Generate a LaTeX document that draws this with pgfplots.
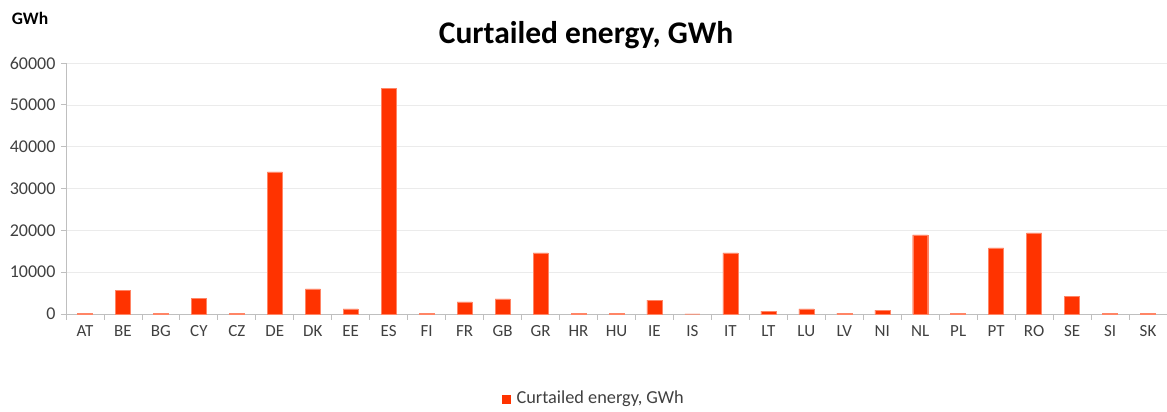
\documentclass[border=0pt]{standalone}
\usepackage{pgfplots}
\pgfplotsset{compat=1.18}
\usepackage{fontspec}
\setmainfont{Carlito}
\definecolor{barred}{HTML}{FF3300}
\definecolor{txt}{HTML}{404040}
\definecolor{axgray}{HTML}{BFBFBF}
\definecolor{gridgray}{HTML}{EBEBEB}
\begin{document}
\begin{tikzpicture}[x=1pt,y=1pt]
\begin{axis}[
  at={(66pt,98pt)}, anchor=south west,
  scale only axis, width=1101pt, height=251pt,
  xmin=-0.5, xmax=28.5, ymin=0, ymax=60000,
  axis x line*=bottom, axis y line*=left,
  axis line style={axgray, line width=0.8pt},
  xtick={0,...,28},
  xticklabels={AT,BE,BG,CY,CZ,DE,DK,EE,ES,FI,FR,GB,GR,HR,HU,IE,IS,IT,LT,LU,LV,NI,NL,PL,PT,RO,SE,SI,SK},
  major x tick style={draw=none},
  minor xtick={-0.5,0.5,...,28.5},
  minor x tick style={axgray, line width=0.8pt},
  minor tick length=6pt,
  ytick={0,10000,...,60000},
  major y tick style={axgray, line width=0.8pt},
  major tick length=5pt,
  tick align=outside,
  ymajorgrids, grid style={gridgray, line width=0.6pt},
  yticklabel style={/pgf/number format/1000 sep={}, font=\fontsize{18}{18}\selectfont, text=txt, xshift=-2pt},
  xticklabel style={font=\fontsize{17}{17}\selectfont, text=txt, yshift=-3pt},
  /pgf/number format/assume math mode=true,
  scaled y ticks=false,
  ybar, bar width=15pt,
  clip=false,
]
\addplot[fill=barred, draw=barred!60!white, line width=0.4pt] coordinates {
(0,200) (1,5700) (2,200) (3,3800) (4,200) (5,34000) (6,6000) (7,1200) (8,54000)
(9,200) (10,2900) (11,3600) (12,14600) (13,200) (14,200) (15,3300) (16,0)
(17,14600) (18,700) (19,1200) (20,200) (21,900) (22,18900) (23,200) (24,15800)
(25,19400) (26,4300) (27,200) (28,200)};
\end{axis}
\node[font=\bfseries\fontsize{31.5}{31.5}\selectfont, text=black] at (586pt,377pt) {Curtailed energy, GWh};
\node[font=\bfseries\fontsize{17.5}{17.5}\selectfont, text=black] at (30pt,394pt) {GWh};
\fill[barred] (502pt,8pt) rectangle (511pt,17pt);
\node[anchor=west, font=\fontsize{18.3}{18.3}\selectfont, text=txt] at (513pt,13pt) {Curtailed energy, GWh};
\pgfresetboundingbox
\path[use as bounding box] (0,0) rectangle (1167pt,412pt);
\end{tikzpicture}
\end{document}
